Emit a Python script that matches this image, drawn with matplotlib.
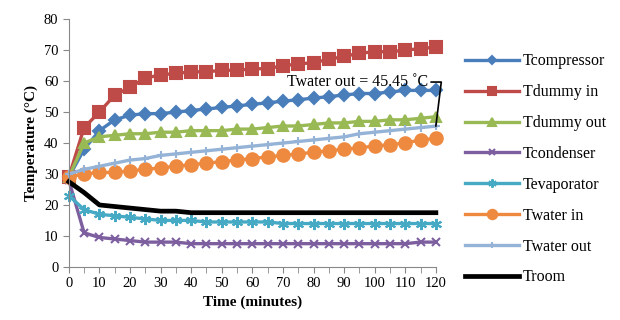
import numpy as np
import matplotlib.pyplot as plt

plt.rcParams['font.family'] = ['Liberation Serif', 'DejaVu Serif']

time = list(range(0, 125, 5))

t_compressor = [29, 38, 44, 47.5, 49, 49.5, 49.5, 50, 50.5, 51, 51.5, 52, 52.5, 53, 53.5,
                54, 54.5, 55, 55.5, 56, 56, 56.5, 57, 57, 57]
t_dummy_in = [29, 45, 50, 55.5, 58, 61, 62, 62.5, 63, 63, 63.5, 63.5, 64, 64, 65,
              65.5, 66, 67, 68, 69, 69.5, 69.5, 70, 70.5, 71]
t_dummy_out = [29, 40, 42, 42.5, 43, 43, 43.5, 43.5, 44, 44, 44, 44.5, 44.5, 45, 45.5,
               45.5, 46, 46.5, 46.5, 47, 47, 47.5, 47.5, 48, 48.5]
t_condenser = [28, 11, 9.5, 9, 8.5, 8, 8, 8, 7.5, 7.5, 7.5, 7.5, 7.5, 7.5, 7.5,
               7.5, 7.5, 7.5, 7.5, 7.5, 7.5, 7.5, 7.5, 8, 8]
t_evaporator = [23, 18.5, 17, 16.5, 16, 15.5, 15, 15, 15, 14.5, 14.5, 14.5, 14.5, 14.5, 14,
                14, 14, 14, 14, 14, 14, 14, 14, 14, 14]
t_water_in = [29, 30, 30.5, 30.5, 31, 31.5, 32, 32.5, 33, 33.5, 34, 34.5, 35, 35.5, 36,
              36.5, 37, 37.5, 38, 38.5, 39, 39.5, 40, 41, 41.5]
t_water_out = [30, 31.5, 32.5, 33.5, 34.5, 35, 36, 36.5, 37, 37.5, 38, 38.5, 39, 39.5, 40,
               40.5, 41, 41.5, 42, 43, 43.5, 44, 44.5, 45, 45.45]
t_room = [27.5, 24, 20, 19.5, 19, 18.5, 18, 18, 17.5, 17.5, 17.5, 17.5, 17.5, 17.5, 17.5,
          17.5, 17.5, 17.5, 17.5, 17.5, 17.5, 17.5, 17.5, 17.5, 17.5]

labels = ['Tcompressor', 'Tdummy in', 'Tdummy out', 'Tcondenser',
          'Tevaporator', 'Twater in', 'Twater out', 'Troom']

fig = plt.figure(figsize=(6.2, 3.2), dpi=100)
ax = fig.add_axes([0.111, 0.166, 0.592, 0.774])

series = [t_compressor, t_dummy_in, t_dummy_out, t_condenser,
          t_evaporator, t_water_in, t_water_out, t_room]
colors = ['#4A7EBB', '#BE4B48', '#98B954', '#7D5FA0',
          '#46AAC5', '#EE8A40', '#95B3D7', '#000000']
markers = ['D', 's', '^', 'x', (6, 2, 0), 'o', '+', None]
msizes = [6, 8, 7, 6, 8, 9, 6, 0]

for y, lab, c, m, ms in zip(series, labels, colors, markers, msizes):
    lw = 3.4 if lab == 'Troom' else 2.4
    ax.plot(time, y, color=c, marker=m, markersize=ms, linewidth=lw,
            markeredgewidth=1.5, label=lab, clip_on=False)

ax.set_xlim(0, 120)
ax.set_ylim(0, 80)
ax.set_xticks(range(0, 121, 10))
ax.set_xticks(range(0, 121, 5), minor=True)
ax.set_yticks(range(0, 81, 10))
for s in ['top', 'right']:
    ax.spines[s].set_visible(False)
for s in ['left', 'bottom']:
    ax.spines[s].set_color('#888888')
ax.tick_params(which='both', color='#888888', labelsize=10.5, length=4)
ax.set_xlabel('Time (minutes)', fontsize=11, fontweight='bold')
ax.set_ylabel('Temperature (°C)', fontsize=11, fontweight='bold')

ax.annotate('Twater out = 45.45 ˚C', xy=(120, t_water_out[-1]), xytext=(117.5, 59.7),
            ha='right', va='center', fontsize=11.5,
            arrowprops=dict(arrowstyle='-', color='black', lw=1.2,
                            connectionstyle='angle,angleA=0,angleB=83,rad=0',
                            shrinkA=0, shrinkB=0))

fig.legend(loc='upper left', bbox_to_anchor=(0.727, 0.878), frameon=False,
           fontsize=11.5, handlelength=3.4, labelspacing=0.93, handletextpad=0.2,
           markerscale=0.75)

fig.savefig('out.png', dpi=100)
